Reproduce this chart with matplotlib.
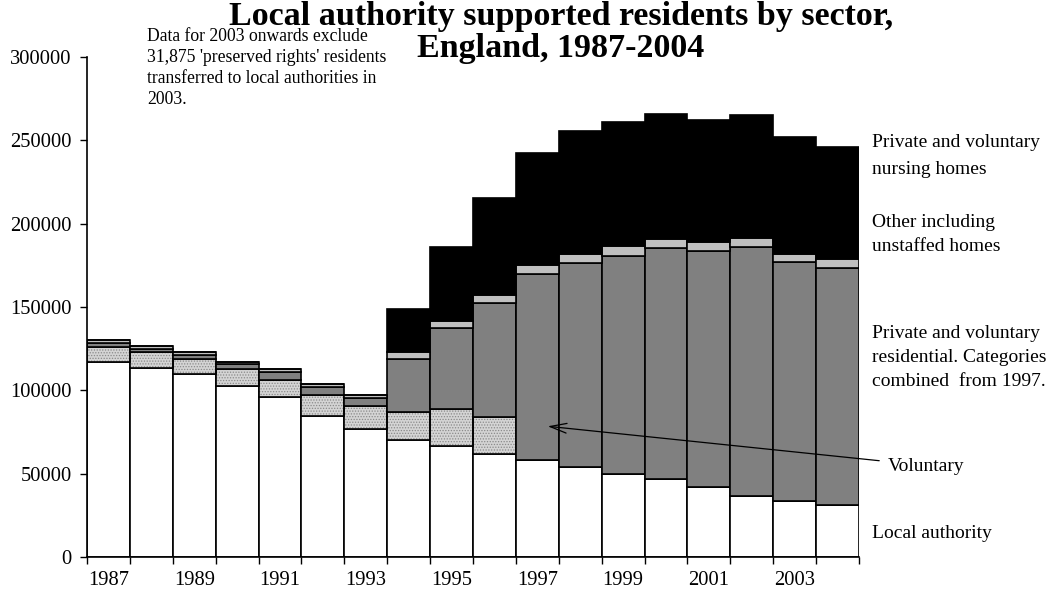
import matplotlib
matplotlib.use("Agg")
import matplotlib.pyplot as plt
import numpy as np

## Data
years = list(range(1987, 2005))
local_authority = [117200, 113600, 109800, 102800, 96200, 84600, 76600, 70200, 66800,
                   61600, 58200, 54200, 49800, 46800, 41800, 36600, 33600, 31200]
voluntary = [8600, 9200, 9000, 9800, 10000, 12600, 14000, 16800, 21800,
             22600, 0, 0, 0, 0, 0, 0, 0, 0]
private_residential = [2400, 2000, 2600, 3000, 5000, 5000, 4600, 31800, 48600,
                       68400, 111600, 122000, 130800, 138400, 142000, 149200, 143200, 142200]
other_unstaffed = [2000, 1800, 1800, 1600, 1600, 1400, 2000, 4000, 4600,
                   4600, 5400, 5600, 6000, 5400, 5400, 5400, 5000, 5400]
nursing = [0, 0, 0, 0, 0, 0, 0, 26000, 44400,
           58000, 67000, 73800, 74200, 75000, 73000, 73800, 70400, 67200]

yticks = [0, 50000, 100000, 150000, 200000, 250000, 300000]

title_lines = ["Local authority supported residents by sector,", "England, 1987-2004"]
note_lines = ["Data for 2003 onwards exclude", "31,875 'preserved rights' residents",
              "transferred to local authorities in", "2003."]

plt.rcParams['font.family'] = ['Liberation Serif', 'DejaVu Serif']
plt.rcParams['hatch.linewidth'] = 0.6

W, H = 1061, 602
fig = plt.figure(figsize=(W / 100, H / 100), dpi=100)
ax = fig.add_axes([0.082, 0.0748, 0.7276, 0.8305])

x = np.arange(len(years))
lw = 1.2
la = np.array(local_authority)
vol = np.array(voluntary)
pr = np.array(private_residential)
oth = np.array(other_unstaffed)
nur = np.array(nursing)

ax.bar(x, la, width=1, color='white', edgecolor='black', lw=lw)
# voluntary: stippled fill, then black outline on top
ax.bar(x, vol, bottom=la, width=1, color='#d4d4d4', edgecolor='#8a8a8a', hatch='......', lw=0)
ax.bar(x, vol, bottom=la, width=1, fill=False, edgecolor='black', lw=lw)
ax.bar(x, pr, bottom=la + vol, width=1, color='#808080', edgecolor='black', lw=lw)
ax.bar(x, oth, bottom=la + vol + pr, width=1, color='#c0c0c0', edgecolor='black', lw=lw)
ax.bar(x, nur, bottom=la + vol + pr + oth, width=1, color='black', edgecolor='black', lw=lw)

ax.set_xlim(-0.5, len(years) - 0.5)
ax.set_ylim(0, 300000)
ax.set_yticks(yticks)
ax.set_yticklabels([str(v) for v in yticks], fontsize=14.8)

# tick marks on bar boundaries, labels every second year at bar centres
ax.set_xticks(np.arange(-0.5, len(years), 1))
ax.set_xticklabels([])
ax.set_xticks(x[::2], minor=True)
ax.set_xticklabels([str(y) for y in years[::2]], minor=True, fontsize=14.8)
ax.tick_params(axis='x', which='minor', length=0, pad=10)
ax.tick_params(axis='x', which='major', length=5, width=1)
ax.tick_params(axis='y', length=5, width=1, pad=6)

for s in ['top', 'right']:
    ax.spines[s].set_visible(False)
ax.spines['left'].set_linewidth(1.2)
ax.spines['bottom'].set_linewidth(1.2)

# title, one text per line
for base, line in zip([25, 57], title_lines):
    fig.text(561 / W, 1 - base / H, line, ha='center', va='baseline',
             fontsize=24.5, fontweight='bold')

# note in the top left
for base, line in zip([41, 62, 83, 104], note_lines):
    fig.text(147 / W, 1 - base / H, line, ha='left', va='baseline', fontsize=12.7)

right_labels = [
    (872, 141, "Private and voluntary\nnursing homes", 1.75),
    (872, 221, "Other including\nunstaffed homes", 1.55),
    (872, 332, "Private and voluntary\nresidential. Categories\ncombined  from 1997.", 1.55),
    (888, 465, "Voluntary", 1.2),
    (872, 532, "Local authority", 1.2),
]
for px, py, txt, ls in right_labels:
    fig.text(px / W, 1 - (py - 7) / H, txt, ha='left', va='top', fontsize=14,
             linespacing=ls)

fig.add_artist(matplotlib.patches.FancyArrowPatch(
    (882 / W, 1 - 461 / H), (545 / W, 1 - 426 / H),
    transform=fig.transFigure, arrowstyle='->,head_length=12,head_width=3.5',
    color='black', lw=0.9))

fig.savefig('out.png', dpi=100)
